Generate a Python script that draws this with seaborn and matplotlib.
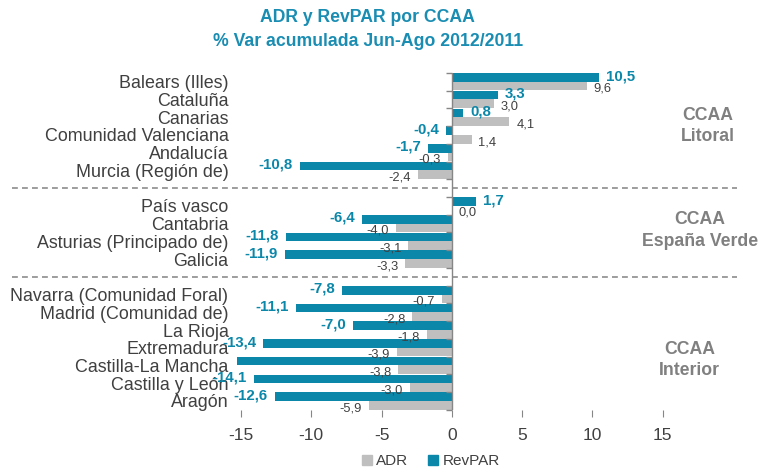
import matplotlib.pyplot as plt
import pandas as pd
import seaborn as sns
from matplotlib.patches import Patch
from matplotlib.transforms import blended_transform_factory

regions = ["Balears (Illes)", "Cataluña", "Canarias", "Comunidad Valenciana", "Andalucía",
           "Murcia (Región de)", "País vasco", "Cantabria", "Asturias (Principado de)", "Galicia",
           "Navarra (Comunidad Foral)", "Madrid (Comunidad de)", "La Rioja", "Extremadura",
           "Castilla-La Mancha", "Castilla y León", "Aragón"]
adr = [9.6, 3.0, 4.1, 1.4, -0.3, -2.4, 0.0, -4.0, -3.1, -3.3,
       -0.7, -2.8, -1.8, -3.9, -3.8, -3.0, -5.9]
revpar = [10.5, 3.3, 0.8, -0.4, -1.7, -10.8, 1.7, -6.4, -11.8, -11.9,
          -7.8, -11.1, -7.0, -13.4, -15.3, -14.1, -12.6]
group_names = ["CCAA\nLitoral", "CCAA\nEspaña Verde", "CCAA\nInterior"]
group_sizes = [6, 4, 7]
x_ticks = [-15, -10, -5, 0, 5, 10, 15]

TEAL = "#0A87A9"
GREY = "#BFBFBF"
TEXT = "#404040"
AXIS = "#868686"

# empty slots between groups
order = []
start = 0
for i, n in enumerate(group_sizes):
    order += regions[start:start + n]
    start += n
    if i < len(group_sizes) - 1:
        order.append(" " * (i + 1))

df = pd.concat([
    pd.DataFrame({"region": regions, "serie": "RevPAR", "value": revpar}),
    pd.DataFrame({"region": regions, "serie": "ADR", "value": adr}),
])

sns.set_style("white")
plt.rcParams["font.family"] = ["Liberation Sans", "DejaVu Sans"]

fig = plt.figure(figsize=(7.6, 4.7), dpi=100)
ax = fig.add_axes([0.317, 0.128, 0.555, 0.717])

hue_order = ["RevPAR", "ADR"]
sns.barplot(data=df, y="region", x="value", hue="serie", order=order, hue_order=hue_order,
            palette={"RevPAR": TEAL, "ADR": GREY}, saturation=1, width=0.97,
            linewidth=0, edgecolor="none", orient="h", legend=False, ax=ax)

ax.set_xlim(-15, 15)
ax.set_ylim(len(order) - 0.5, -0.5)
ax.set_xticks(x_ticks)
ax.set_xticklabels([str(t) for t in x_ticks])
ax.set_xlabel("")
ax.set_ylabel("")
for s in ax.spines.values():
    s.set_visible(False)
ax.tick_params(axis="x", length=5, color=AXIS, labelsize=12.5, labelcolor=TEXT, pad=8,
               bottom=True)
ax.tick_params(axis="y", length=0, labelsize=12.9, labelcolor=TEXT, pad=9)

# value axis at zero with ticks between categories
ax.axvline(0, color=AXIS, lw=1, zorder=6)
sec = ax.secondary_yaxis(0.5)
sec.set_alignment("left")
sec.set_zorder(7)
sec.set_yticks([k - 0.5 for k in range(len(order) + 1)])
sec.tick_params(length=4, width=1, color=AXIS, labelleft=False, labelright=False)
for s in sec.spines.values():
    s.set_visible(False)

for cont, serie in zip(ax.containers, hue_order):
    for p in cont.patches:
        p.set_clip_on(False)
        w = p.get_width()
        if w < x_ticks[0]:
            continue
        yc = p.get_y() + p.get_height() / 2
        lab = f"{w:.1f}".replace(".", ",")
        sign = -1 if w < 0 else 1
        if serie == "RevPAR":
            ax.annotate(lab, (w, yc), xytext=(sign * 5, 1), textcoords="offset points",
                        ha="right" if w < 0 else "left", va="center",
                        fontsize=10.8, fontweight="bold", color=TEAL)
        else:
            ax.annotate(lab, (w, yc), xytext=(sign * 5, -2), textcoords="offset points",
                        ha="right" if w < 0 else "left", va="center",
                        fontsize=9.3, color=TEXT)

# group separators and names
trans = blended_transform_factory(ax.transAxes, ax.transData)
gap_pos = [order.index(" " * (i + 1)) for i in range(len(group_sizes) - 1)]
for y in gap_pos:
    ax.plot([-0.543, 1.175], [y, y], transform=trans, clip_on=False, color="#8C8C8C",
            lw=1.2, ls=(0, (3.5, 2.5)))
for name, xx, yy in zip(group_names, [1.107, 1.088, 1.064], [2.5, 8.4, 15.7]):
    ax.text(xx, yy, name, transform=trans, ha="center", va="center", fontsize=12.7,
            fontweight="bold", color="#808080", linespacing=1.35)

fig.text(0.484, 0.962, "ADR y RevPAR por CCAA", ha="center", va="center", fontsize=12.7,
         fontweight="bold", color="#1A8DB3")
fig.text(0.484, 0.911, "% Var acumulada Jun-Ago 2012/2011", ha="center", va="center",
         fontsize=12.7, fontweight="bold", color="#1A8DB3")

handles = [Patch(color=GREY, label="ADR"), Patch(color=TEAL, label="RevPAR")]
fig.legend(handles=handles, loc="center", bbox_to_anchor=(0.567, 0.019), ncol=2,
           frameon=False, fontsize=11, handlelength=0.65, handleheight=0.65,
           handletextpad=0.3, columnspacing=1.3, labelcolor=TEXT)

fig.savefig("out.png", dpi=100)
